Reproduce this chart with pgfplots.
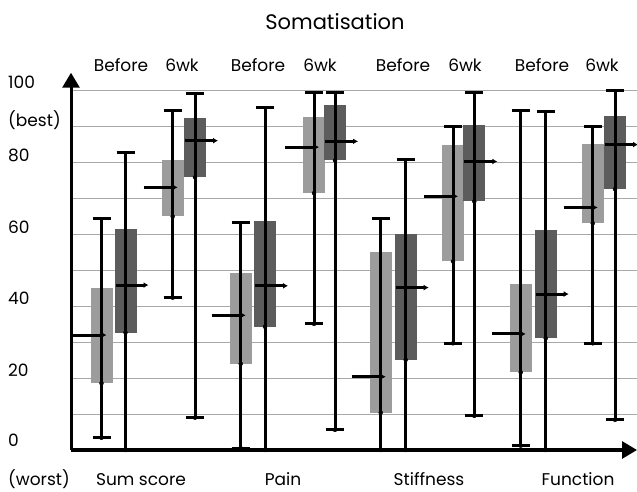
\documentclass[border=0pt]{standalone}
\usepackage{fontspec}
\setmainfont{Poppins}
\usepackage{pgfplots}
\pgfplotsset{compat=1.18}
\usepackage{pgfplotstable}
\usetikzlibrary{arrows.meta}

\definecolor{lightbox}{HTML}{9C9C9C}
\definecolor{darkbox}{HTML}{5C5C5C}
\definecolor{gridc}{HTML}{A8A8A8}

\pgfplotstableread{
x lo q1 med q3 hi
101.5 3.4 18.6 32.0 45.2 64.3
172.7 42.4 65.0 73.1 80.6 94.5
240.7 0.5 24.0 37.5 49.2 63.3
314 35.1 71.5 84.3 92.8 99.6
380.7 0 10.4 20.4 55.1 64.3
453 29.7 52.5 70.6 85.0 90.1
520.7 1.2 21.6 32.3 46.1 94.5
592.7 29.7 63.1 67.5 85.1 90.1
}\lighttab

\pgfplotstableread{
x lo q1 med q3 hi
125.5 0 32.7 45.9 61.4 82.8
195 9.0 75.9 86.1 92.4 99.3
265 0 34.3 45.7 63.6 95.4
335 5.6 80.6 85.9 96.1 99.6
405.7 0 25.1 45.2 60.2 80.8
474.3 9.5 69.2 80.3 90.5 99.6
545.7 0 31.1 43.4 61.3 94.2
615 8.4 72.6 85.0 93.0 100
}\darktab

\newcommand{\lbl}{\fontsize{17bp}{20bp}\selectfont}

\begin{document}
\begin{tikzpicture}
\path[use as bounding box] (0,0) rectangle (637bp,492bp);
\begin{axis}[
  at={(71bp,42bp)}, anchor=south west,
  scale only axis, width=566bp, height=377.25bp,
  xmin=71, xmax=637, ymin=0, ymax=105,
  axis lines=left,
  axis line style={line width=3bp, black, -{Triangle[length=15bp,width=17bp]}},
  xtick=\empty, ytick={10,20,...,100}, yticklabels={},
  major tick length=0pt,
  ymajorgrids, grid style={gridc, line width=0.9bp},
  clip=false,
]
% boxes
\addplot[only marks, mark=none, forget plot, error bars/.cd, y dir=plus, y explicit, error mark=none,
  error bar style={line width=22bp, lightbox, line cap=butt}]
  table[x=x, y=q1, y error expr=\thisrow{q3}-\thisrow{q1}] {\lighttab};
\addplot[only marks, mark=none, forget plot, error bars/.cd, y dir=plus, y explicit, error mark=none,
  error bar style={line width=22bp, darkbox, line cap=butt}]
  table[x=x, y=q1, y error expr=\thisrow{q3}-\thisrow{q1}] {\darktab};
% whiskers
\addplot[only marks, mark=none, forget plot, error bars/.cd, y dir=both, y explicit,
  error bar style={line width=3bp, black},
  error mark options={black, line width=3bp, mark size=9bp, rotate=90}]
  table[x=x, y=lo, y error plus expr=\thisrow{hi}-\thisrow{lo}, y error minus expr=0] {\lighttab};
\addplot[only marks, mark=none, forget plot, error bars/.cd, y dir=both, y explicit,
  error bar style={line width=3bp, black},
  error mark options={black, line width=3bp, mark size=9bp, rotate=90}]
  table[x=x, y=lo, y error plus expr=\thisrow{hi}-\thisrow{lo}, y error minus expr=0] {\darktab};
% medians
\addplot[black, line width=3bp, -{Latex[length=5bp,width=6bp]}, quiver={u=34, v=0}, mark=none]
  table[x expr=\thisrow{x}-29, y=med] {\lighttab};
\addplot[black, line width=3bp, -{Latex[length=5bp,width=6bp]}, quiver={u=33, v=0}, mark=none]
  table[x expr=\thisrow{x}-10, y=med] {\darktab};
\end{axis}
% texts
\node[font=\fontsize{21bp}{24bp}\selectfont] at (335bp,470bp) {Somatisation};
\foreach \xx/\tt in {121/Before,182/6wk,258/Before,320/6wk,403/Before,465/6wk,542/Before,602/6wk}
  \node[font=\lbl] at (\xx bp,427bp) {\tt};
\foreach \yy/\tt in {409.5/100,372/(best),337/80,265/60,194/40,122/20,52/0}
  \node[font=\lbl, anchor=west, inner sep=0pt] at (8bp,\yy bp) {\tt};
\node[font=\lbl, anchor=base west, inner sep=0pt] at (8bp,7bp) {(worst)};
\foreach \xx/\tt in {141/Sum score,283/Pain,429/Stiffness,578/Function}
  \node[font=\lbl, anchor=base, inner sep=0pt] at (\xx bp,7bp) {\tt};
\end{tikzpicture}
\end{document}
